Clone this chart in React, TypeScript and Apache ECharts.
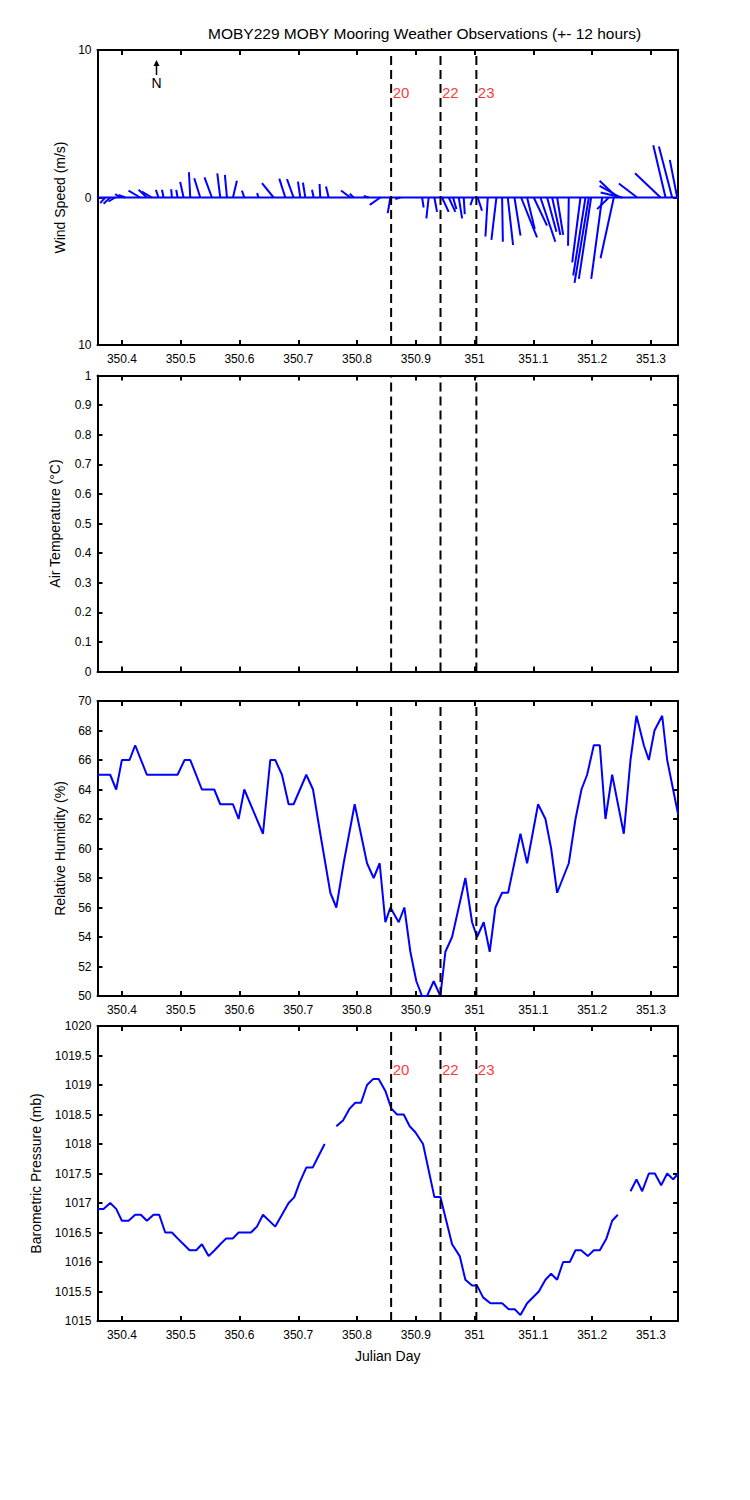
import React, { useEffect, useRef } from "react";
import * as echarts from "echarts";

// ---------- data ----------
const xMin = 350.3585;
const xMax = 351.346;

const eventDays = [350.858, 350.942, 351.003];
const eventLabels = ["20", "22", "23"];

// wind sticks: time (Julian day), u (east, m/s), v (north, m/s)
const windTime = [
  350.3716, 350.3801, 350.3886, 350.3971, 350.4056, 350.4311, 350.4425, 350.451, 350.4623, 350.4709,
  350.4851, 350.4947, 350.5049, 350.5163, 350.5333, 350.5531, 350.5673, 350.5787, 350.5889, 350.6082,
  350.6326, 350.6581, 350.678, 350.6921, 350.7035, 350.712, 350.7262, 350.7375, 350.7517, 350.7886,
  350.7943, 350.8198, 350.8397, 350.8567, 350.8737, 350.9106, 350.9219, 350.9316, 350.9446, 350.956,
  350.9633, 350.973, 350.9815, 350.9974, 351.0053, 351.0224, 351.0371, 351.0468, 351.0564, 351.0678,
  351.0791, 351.0893, 351.1006, 351.112, 351.1234, 351.1319, 351.1404, 351.1602, 351.1801, 351.1886,
  351.1943, 351.1982, 351.217, 351.2283, 351.2368, 351.2425, 351.2482, 351.251, 351.2765, 351.3163,
  351.3248, 351.3361, 351.3446,
];
const windU = [
  -0.34, -0.45, -0.45, -0.34, -0.45, -0.79, -0.56, -0.68, -0.18, -0.11,
  -0.05, -0.09, -0.23, -0.09, -0.41, -0.5, -0.2, -0.14, 0.27, -0.16,
  -0.11, -0.79, -0.41, -0.45, -0.16, -0.16, -0.11, -0.05, -0.18, -0.63,
  -0.27, -0.34, -0.72, -0.18, -0.34, 0.11, -0.16, 0.18, 0.45, 0.45,
  0.23, 0.23, 0.07, -0.18, 0.29, -0.16, -0.34, 0.05, 0.36, 0.41,
  1.08, 0.52, 0.9, 1.01, 0.63, 0.56, 0.41, -0.05, -0.56, -0.83,
  -0.97, -0.83, -0.74, -0.79, -0.9, -1.19, -1.42, -1.46, -1.24, -1.73,
  -0.83, -0.9, -0.5,
];
const windV = [
  -0.38, -0.43, -0.27, 0.23, 0.18, 0.47, 0.52, 0.4, 0.52, 0.52,
  0.56, 0.52, 1.06, 1.71, 1.31, 1.37, 1.64, 1.53, 1.13, 0.47,
  0.3, 0.97, 1.28, 1.24, 1.08, 1.01, 0.52, 0.92, 0.74, 0.47,
  0.25, 0.11, -0.5, -1.06, -0.11, -0.68, -1.42, -0.97, -0.97, -0.97,
  -0.79, -1.42, -1.13, -0.52, -0.9, -2.64, -2.88, -3.0, -3.22, -2.59,
  -2.7, -2.14, -1.91, -3.0, -2.32, -2.54, -2.54, -3.27, -4.39, -5.29,
  -5.79, -5.52, -5.52, -0.79, -4.12, 1.13, 0.79, 0.34, 0.95, 1.64,
  3.54, 3.45, 2.55,
];

// air temperature: no observations in this window
const tempTime: number[] = [];
const tempValue: number[] = [];

// relative humidity (%)
const rhTime = [
  350.3585, 350.3801, 350.3903, 350.4, 350.413, 350.4226, 350.4425, 350.4947, 350.5066, 350.5163,
  350.5361, 350.5571, 350.5673, 350.5889, 350.5985, 350.6082, 350.64, 350.6524, 350.6609, 350.6723,
  350.6836, 350.6921, 350.7137, 350.7251, 350.7375, 350.7546, 350.7648, 350.7772, 350.796, 350.817,
  350.8283, 350.8385, 350.8482, 350.8567, 350.8709, 350.8805, 350.8907, 350.9009, 350.9106, 350.9191,
  350.9304, 350.9418, 350.9503, 350.9617, 350.9843, 350.9957, 351.0042, 351.0155, 351.0257, 351.0354,
  351.0468, 351.057, 351.078, 351.0893, 351.108, 351.1205, 351.1302, 351.1404, 351.1602, 351.1716,
  351.1818, 351.1914, 351.2028, 351.213, 351.2226, 351.234, 351.2538, 351.2652, 351.2754, 351.2879,
  351.2964, 351.306, 351.3191, 351.3276, 351.3463,
];
const rhValue = [
  65, 65, 64, 66, 66, 67, 65, 65, 66, 66,
  64, 64, 63, 63, 62, 64, 61, 66, 66, 65,
  63, 63, 65, 64, 61, 57, 56, 59, 63, 59,
  58, 59, 55, 56, 55, 56, 53, 51, 50, 50,
  51, 50, 53, 54, 58, 55, 54, 55, 53, 56,
  57, 57, 61, 59, 63, 62, 60, 57, 59, 62,
  64, 65, 67, 67, 62, 65, 61, 66, 69, 67,
  66, 68, 69, 66, 62.3,
];

// barometric pressure (mb); null = missing sample
const presTime = [
  350.3585, 350.3687, 350.3801, 350.3903, 350.4, 350.4113, 350.4226, 350.4323, 350.4425, 350.4538,
  350.4635, 350.4737, 350.4851, 350.4947, 350.5049, 350.5151, 350.5265, 350.5361, 350.5475, 350.5577,
  350.5673, 350.5775, 350.5889, 350.5985, 350.6195, 350.6297, 350.64, 350.6609, 350.6723, 350.6836,
  350.6933, 350.7024, 350.7137, 350.7245, 350.7347, 350.7449, 350.755, 350.7648, 350.7761, 350.7875,
  350.7971, 350.8068, 350.817, 350.8272, 350.8368, 350.8482, 350.8584, 350.868, 350.8794, 350.8896,
  350.8992, 350.9123, 350.9316, 350.9418, 350.9617, 350.9747, 350.9843, 350.9957, 351.0042, 351.0144,
  351.0269, 351.0468, 351.0581, 351.0683, 351.078, 351.0893, 351.1092, 351.1205, 351.1302, 351.1404,
  351.1506, 351.1619, 351.1716, 351.1812, 351.1926, 351.2028, 351.213, 351.2243, 351.234, 351.2436,
  351.255, 351.2652, 351.2754, 351.2851, 351.2964, 351.3066, 351.3174, 351.3276, 351.3378, 351.3463,
];
const presValue: (number | null)[] = [
  1016.9, 1016.9, 1017.0, 1016.9, 1016.7, 1016.7, 1016.8, 1016.8, 1016.7, 1016.8,
  1016.8, 1016.5, 1016.5, 1016.4, 1016.3, 1016.2, 1016.2, 1016.3, 1016.1, 1016.2,
  1016.3, 1016.4, 1016.4, 1016.5, 1016.5, 1016.6, 1016.8, 1016.6, 1016.8, 1017.0,
  1017.1, 1017.35, 1017.6, 1017.6, 1017.8, 1018.0, null, 1018.3, 1018.4, 1018.6,
  1018.7, 1018.7, 1019.0, 1019.1, 1019.1, 1018.9, 1018.6, 1018.5, 1018.5, 1018.3,
  1018.2, 1018.0, 1017.1, 1017.1, 1016.3, 1016.1, 1015.7, 1015.6, 1015.6, 1015.4,
  1015.3, 1015.3, 1015.2, 1015.2, 1015.1, 1015.3, 1015.5, 1015.7, 1015.8, 1015.7,
  1016.0, 1016.0, 1016.2, 1016.2, 1016.1, 1016.2, 1016.2, 1016.4, 1016.7, 1016.8,
  null, 1017.2, 1017.4, 1017.2, 1017.5, 1017.5, 1017.3, 1017.5, 1017.4, 1017.5,
];

// ---------- layout / styles ----------
const FONT = "'Liberation Sans', Arial, Helvetica, sans-serif";
const BLUE = "#0000ff";
const GRID_LEFT = 97.5;
const GRID_WIDTH = 580.5;

type Panel = {
  top: number;
  height: number;
  min: number;
  max: number;
  interval: number;
  name: string;
  nameGap: number;
  showX: boolean;
  xName: string;
  fmt: (v: number) => string;
};

const panels: Panel[] = [
  { top: 50, height: 295, min: -10, max: 10, interval: 10, name: "Wind Speed (m/s)", nameGap: 31, showX: true, xName: "", fmt: (v) => String(Math.abs(v)) },
  { top: 375.5, height: 296, min: 0, max: 1, interval: 0.1, name: "Air Temperature (°C)", nameGap: 36, showX: false, xName: "", fmt: (v) => String(v) },
  { top: 701, height: 295, min: 50, max: 70, interval: 2, name: "Relative Humidity (%)", nameGap: 31, showX: true, xName: "", fmt: (v) => String(v) },
  { top: 1026, height: 295, min: 1015, max: 1020, interval: 0.5, name: "Barometric Pressure (mb)", nameGap: 55, showX: true, xName: "Julian Day", fmt: (v) => String(v) },
];

// y positions (data units) of the red event labels in the wind and pressure panels
const eventLabelY: Record<number, number> = { 0: 7.1, 3: 1019.27 };

function buildOption(): any {
  const axisLine = { show: true, onZero: false, lineStyle: { color: "#000", width: 2 } };
  const axisTick = { show: true, inside: true, length: 5, lineStyle: { color: "#000", width: 2 } };

  const grid = panels.map((p) => ({ left: GRID_LEFT, width: GRID_WIDTH, top: p.top, height: p.height }));

  const xAxis: any[] = [];
  const yAxis: any[] = [];
  panels.forEach((p, i) => {
    xAxis.push({
      type: "value",
      gridIndex: i,
      position: "bottom",
      min: xMin,
      max: xMax,
      splitNumber: 10,
      axisLine,
      axisTick,
      splitLine: { show: false },
      axisLabel: {
        show: p.showX,
        showMinLabel: false,
        showMaxLabel: false,
        color: "#000",
        fontSize: 12,
        fontFamily: FONT,
        margin: 8,
        formatter: (v: number) => String(v),
      },
      name: p.xName,
      nameLocation: "middle",
      nameGap: 28,
      nameTextStyle: { color: "#000", fontSize: 14, fontFamily: FONT },
    });
    xAxis.push({
      type: "value",
      gridIndex: i,
      position: "top",
      min: xMin,
      max: xMax,
      splitNumber: 10,
      axisLine,
      axisTick,
      splitLine: { show: false },
      axisLabel: { show: false },
    });
    yAxis.push({
      type: "value",
      gridIndex: i,
      position: "left",
      min: p.min,
      max: p.max,
      interval: p.interval,
      axisLine,
      axisTick,
      splitLine: { show: false },
      axisLabel: { color: "#000", fontSize: 12, fontFamily: FONT, margin: 6, formatter: p.fmt },
      name: p.name,
      nameLocation: "middle",
      nameRotate: 90,
      nameGap: p.nameGap,
      nameTextStyle: { color: "#000", fontSize: 14, fontFamily: FONT },
    });
    yAxis.push({
      type: "value",
      gridIndex: i,
      position: "right",
      min: p.min,
      max: p.max,
      interval: p.interval,
      axisLine,
      axisTick,
      splitLine: { show: false },
      axisLabel: { show: false },
    });
  });

  const series: any[] = [];

  // wind zero line
  series.push({
    type: "line",
    xAxisIndex: 0,
    yAxisIndex: 0,
    data: [[xMin, 0], [xMax, 0]],
    symbol: "none",
    lineStyle: { color: BLUE, width: 2 },
    silent: true,
  });

  // wind sticks
  series.push({
    type: "custom",
    name: "Wind",
    xAxisIndex: 0,
    yAxisIndex: 0,
    clip: true,
    data: windTime.map((t, i) => [t, windU[i], windV[i]]),
    encode: { x: 0, y: 2 },
    renderItem: (params: any, api: any) => {
      const t = api.value(0);
      const u = api.value(1);
      const v = api.value(2);
      const p0 = api.coord([t, 0]);
      const p1 = api.coord([t, v]);
      const unit = api.size([0, 1])[1];
      return {
        type: "line",
        shape: { x1: p0[0], y1: p0[1], x2: p0[0] + u * unit, y2: p1[1] },
        style: { stroke: BLUE, lineWidth: 2 },
      };
    },
  });

  // air temperature (empty)
  series.push({
    type: "line",
    name: "Air Temperature",
    xAxisIndex: 2,
    yAxisIndex: 2,
    data: tempTime.map((t, i) => [t, tempValue[i]]),
    symbol: "none",
    lineStyle: { color: BLUE, width: 2 },
  });

  // relative humidity
  series.push({
    type: "line",
    name: "Relative Humidity",
    xAxisIndex: 4,
    yAxisIndex: 4,
    data: rhTime.map((t, i) => [t, rhValue[i]]),
    symbol: "none",
    showSymbol: false,
    lineStyle: { color: BLUE, width: 2 },
    clip: true,
  });

  // pressure
  series.push({
    type: "line",
    name: "Barometric Pressure",
    xAxisIndex: 6,
    yAxisIndex: 6,
    data: presTime.map((t, i) => [t, presValue[i] === null ? "-" : presValue[i]]),
    symbol: "none",
    showSymbol: false,
    connectNulls: false,
    lineStyle: { color: BLUE, width: 2 },
    clip: true,
  });

  // event dashed lines
  panels.forEach((p, i) => {
    eventDays.forEach((d) => {
      series.push({
        type: "line",
        xAxisIndex: i * 2,
        yAxisIndex: i * 2,
        data: [[d, p.min], [d, p.max]],
        symbol: "none",
        silent: true,
        z: 3,
        lineStyle: { color: "#000", width: 2, type: [9, 5] },
      });
    });
  });

  // event labels
  [0, 3].forEach((i) => {
    series.push({
      type: "scatter",
      xAxisIndex: i * 2,
      yAxisIndex: i * 2,
      data: eventDays.map((d) => [d, eventLabelY[i]]),
      symbolSize: 1,
      itemStyle: { color: "rgba(0,0,0,0)" },
      silent: true,
      z: 4,
      label: {
        show: true,
        position: "right",
        distance: 1,
        color: "#ff0000",
        fontSize: 15,
        fontFamily: FONT,
        formatter: (prm: any) => eventLabels[prm.dataIndex],
      },
    });
  });

  return {
    animation: false,
    backgroundColor: "#fff",
    textStyle: { fontFamily: FONT },
    title: {
      text: "MOBY229 MOBY Mooring Weather Observations (+- 12 hours)",
      left: 208,
      top: 25,
      padding: 0,
      textStyle: { fontSize: 15.5, fontWeight: "normal", color: "#000", fontFamily: FONT },
    },
    grid,
    xAxis,
    yAxis,
    series,
    graphic: [
      { type: "line", shape: { x1: 156.5, y1: 75, x2: 156.5, y2: 64 }, style: { stroke: "#000", lineWidth: 1.5 } },
      { type: "polygon", shape: { points: [[153.5, 66], [159.5, 66], [156.5, 60]] }, style: { fill: "#000" } },
      { type: "text", x: 156.5, y: 83, style: { text: "N", fill: "#000", fontSize: 14, fontFamily: FONT, align: "center", verticalAlign: "middle" } },
    ],
  };
}

export default function App() {
  const ref = useRef<HTMLDivElement>(null);
  useEffect(() => {
    if (!ref.current) return;
    const chart = echarts.init(ref.current, null, { renderer: "svg" });
    chart.setOption(buildOption());
    return () => chart.dispose();
  }, []);
  return (
    <div
      ref={ref}
      style={{ position: "absolute", left: 0, top: 0, width: 750, height: 1500, background: "#fff" }}
    />
  );
}
